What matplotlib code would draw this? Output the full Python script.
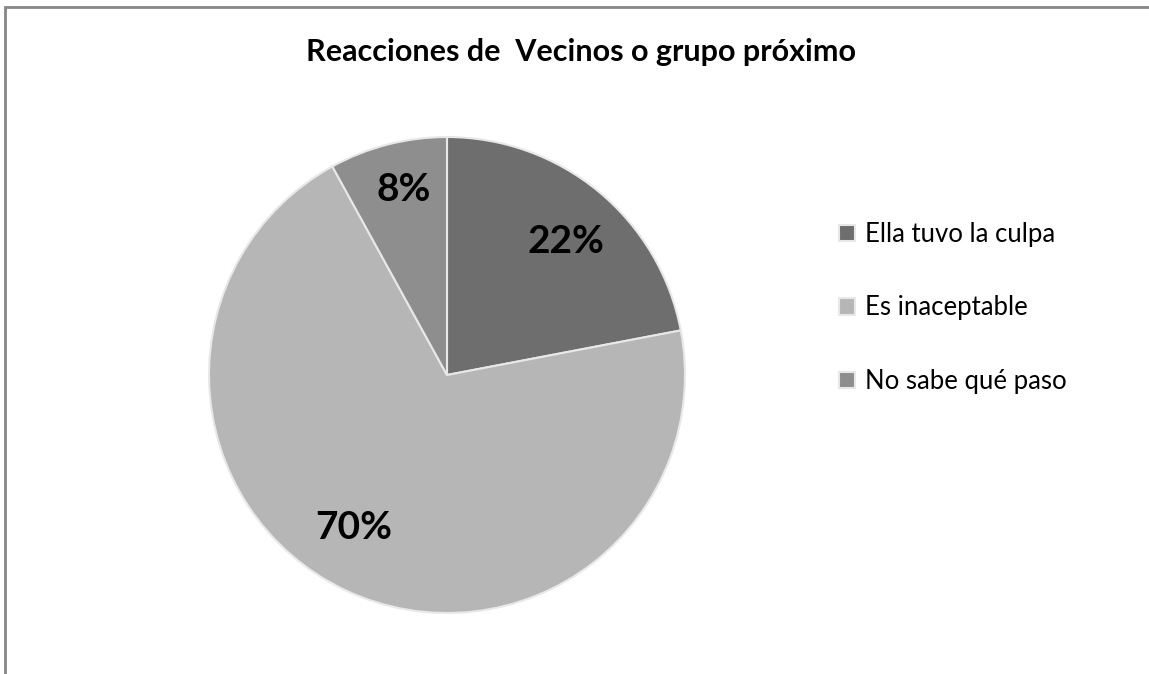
import matplotlib.pyplot as plt
from matplotlib.patches import Rectangle

# Data
categories = ['Ella tuvo la culpa', 'Es inaceptable', 'No sabe qué paso']
shares = [22, 70, 8]
colors = ['#6e6e6e', '#b6b6b6', '#8e8e8e']

plt.rcParams['font.family'] = ['Lato', 'DejaVu Sans']

W, H = 1149, 674
fig = plt.figure(figsize=(W / 100, H / 100), dpi=100)

# Chart frame (cropped at the right and bottom)
fig.add_artist(Rectangle((5 / W, -0.1), 1.2, (H - 7) / H + 0.1,
                         transform=fig.transFigure, fill=False,
                         edgecolor='#868686', linewidth=2))

# Pie placed in pixel terms: centre (447, 375), radius 238
cx, cy, r = 447, 375, 238
ax = fig.add_axes([(cx - r) / W, (H - cy - r) / H, 2 * r / W, 2 * r / H])
wedges, texts, autotexts = ax.pie(
    shares, colors=colors, startangle=90, counterclock=False,
    autopct='%1.0f%%', pctdistance=0.76,
    wedgeprops=dict(edgecolor='#e8e8e8', linewidth=1.5),
    textprops=dict(fontsize=28, fontweight='bold', color='black'))
# nudge the labels to where Excel put them
label_pos = [(0.50, 0.56), (-0.39, -0.64), (-0.18, 0.78)]
for t, pos in zip(autotexts, label_pos):
    t.set_position(pos)
ax.set_xlim(-1, 1)
ax.set_ylim(-1, 1)
ax.set_aspect('equal')

fig.text(581 / W, 1 - 52 / H, 'Reacciones de  Vecinos o grupo próximo',
         ha='center', va='center', fontsize=22, fontweight='bold')

ax.legend(wedges, categories, loc='upper left',
          bbox_to_anchor=(816 / W, 1 - 199 / H), bbox_transform=fig.transFigure,
          frameon=False, fontsize=18.5, labelspacing=1.88,
          handlelength=0.6, handleheight=0.6, handletextpad=0.4)

fig.savefig('out.png', dpi=100, facecolor='white')
